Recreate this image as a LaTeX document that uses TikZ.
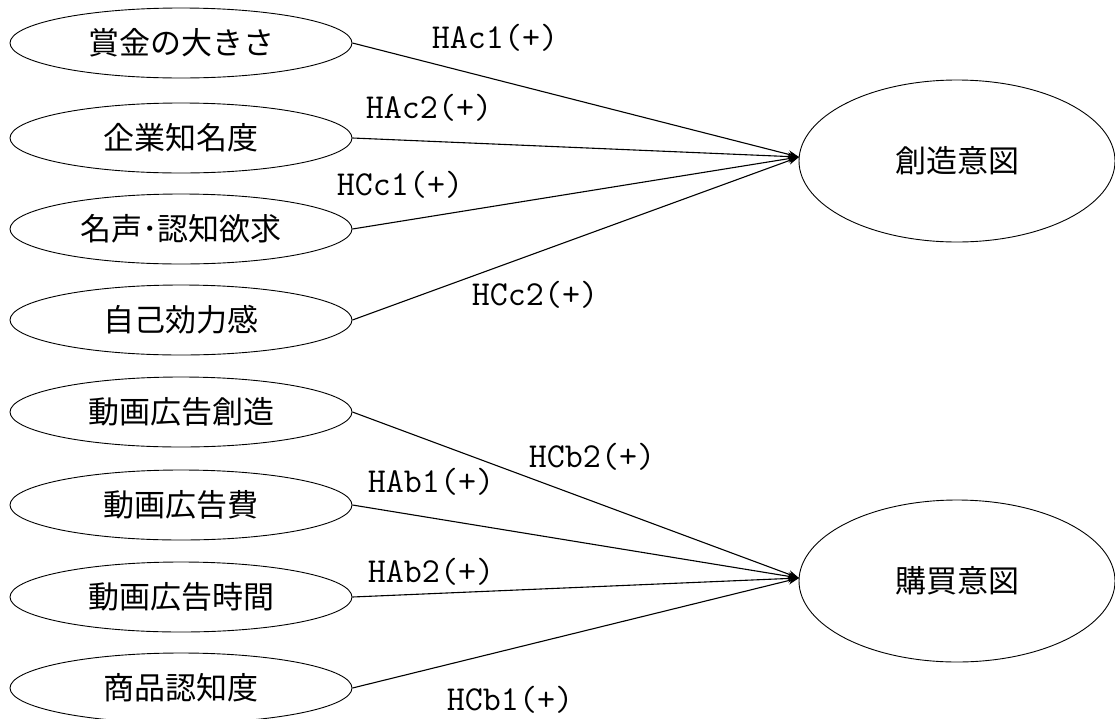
\documentclass[tikz,border=0pt]{standalone}
\usepackage{fontspec}
\usetikzlibrary{shapes.geometric,arrows.meta}
\newfontfamily\cjk{Noto Sans CJK JP}
\begin{document}
\begin{tikzpicture}[x=1pt,y=-1pt,
  src/.style={draw,ellipse,line width=0.9pt,minimum width=342pt,minimum height=70pt,inner sep=0pt,font=\cjk\fontsize{31}{33}\selectfont},
  tgt/.style={draw,ellipse,line width=0.9pt,minimum width=316pt,minimum height=162pt,inner sep=0pt,font=\cjk\fontsize{31}{33}\selectfont},
  arr/.style={line width=1.1pt,-{Stealth[length=11pt,width=8pt]}},
  lab/.style={font=\ttfamily\fontsize{35}{37}\selectfont,inner sep=0pt}]
\useasboundingbox (0,0) rectangle (1115,718);
% target nodes
\node[tgt] (cre) at (957,161) {創造意図};
\node[tgt] (buy) at (957,581) {購買意図};
\coordinate (ca) at (799,157);
\coordinate (cb) at (799,578);
% top sources
\node[src] (s1) at (181,43) {賞金の大きさ};
\node[src] (s2) at (181,138) {企業知名度};
\node[src] (s3) at (181,229) {名声･認知欲求};
\node[src] (s4) at (181,320) {自己効力感};
% bottom sources
\node[src] (b1) at (181,412) {動画広告創造};
\node[src] (b2) at (181,505) {動画広告費};
\node[src] (b3) at (181,597) {動画広告時間};
\node[src] (b4) at (181,688) {商品認知度};
% connectors
\draw[arr] (s1.east) -- (ca);
\draw[arr] (s2.east) -- (ca);
\draw[arr] (s3.east) -- (ca);
\draw[arr] (s4.east) -- (ca);
\draw[arr] (b1.east) -- (cb);
\draw[arr] (b2.east) -- (cb);
\draw[arr] (b3.east) -- (cb);
\draw[arr] (b4.east) -- (cb);
% labels
\node[lab] (l1) at (495,38) {HAc1(+)};
\node[lab] (l2) at (429,108) {HAc2(+)};
\node[lab] (l3) at (400,185) {HCc1(+)};
\node[lab] (l4) at (535,295) {HCc2(+)};
\node[lab] (l5) at (592,457) {HCb2(+)};
\node[lab] (l6) at (431,482) {HAb1(+)};
\node[lab] (l7) at (431,572) {HAb2(+)};
\node[lab] (l8) at (510,700) {HCb1(+)};
\end{tikzpicture}
\end{document}
